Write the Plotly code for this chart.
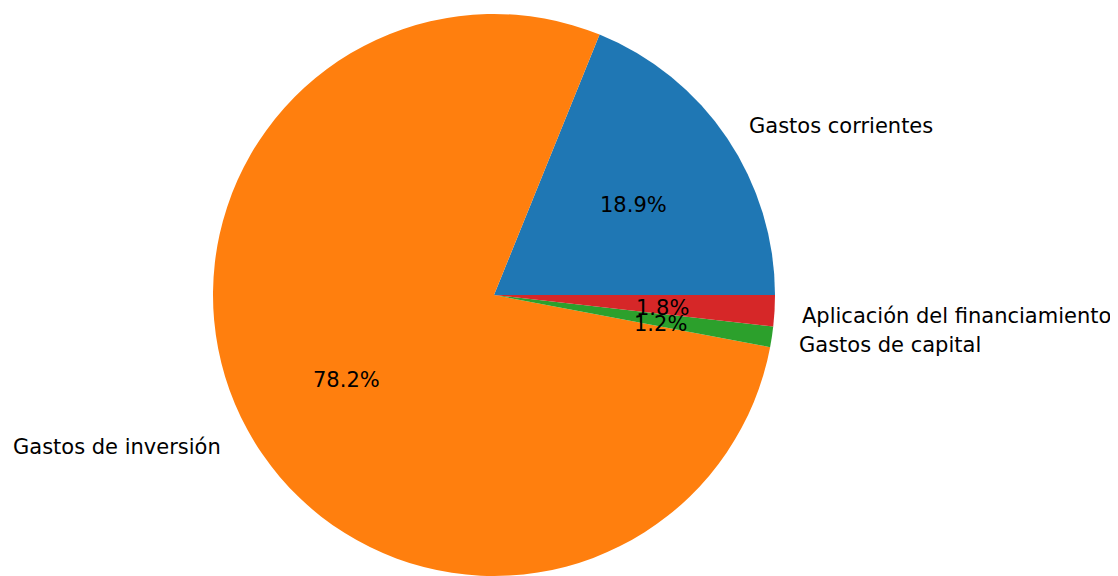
import math
import plotly.graph_objects as go

labels = ["Gastos corrientes", "Gastos de inversión", "Gastos de capital", "Aplicación del financiamiento"]
values = [18.87, 78.16, 1.18, 1.79]
colors = ["#1f77b4", "#ff7f0e", "#2ca02c", "#d62728"]

PAGE = 8  # browser default body margin
W, H = 1118 - PAGE, 576 - PAGE
CX_PX = 494 - PAGE  # pie centre (px from figure left)
R_PX = 281
MT = 6
MB = H - MT - 2 * R_PX
ML, MR = 0, 0
TEXT_DROP = 4  # downward nudge so glyphs sit like matplotlib's centred text

dom_x = [(CX_PX - R_PX) / W, (CX_PX + R_PX) / W]

total = sum(values)
# plotly's counterclockwise pies put the END of the first slice at the rotation angle;
# we want the first slice to START at 3 o'clock (matplotlib startangle=0).
rotation = 90 - 360 * values[0] / total

fig = go.Figure(go.Pie(
    labels=labels, values=values, sort=False,
    direction="counterclockwise", rotation=rotation,
    marker=dict(colors=colors, line=dict(width=0)),
    textinfo="none", hoverinfo="skip", showlegend=False,
    domain=dict(x=dom_x, y=[0, 1]),
))

cum = 0.0
cx_paper = CX_PX / W
cy_paper = 0.5
font = dict(family="DejaVu Sans", size=21, color="#000000")
for lab, v in zip(labels, values):
    frac = v / total
    mid = 2 * math.pi * (cum + frac / 2)
    cum += frac
    c, s = math.cos(mid), math.sin(mid)
    fig.add_annotation(
        x=cx_paper, y=cy_paper, xref="paper", yref="paper",
        xshift=1.1 * R_PX * c - (3 if c > 0 else 0), yshift=1.1 * R_PX * s - TEXT_DROP,
        text=lab, showarrow=False, font=font,
        xanchor="left" if c > 0 else "right", yanchor="middle",
    )
    fig.add_annotation(
        x=cx_paper, y=cy_paper, xref="paper", yref="paper",
        xshift=0.6 * R_PX * c, yshift=0.6 * R_PX * s - TEXT_DROP,
        text=f"{frac * 100:.1f}%", showarrow=False, font=font,
        xanchor="center", yanchor="middle",
    )

fig.update_layout(
    width=W, height=H,
    margin=dict(l=ML, r=MR, t=MT, b=MB),
    paper_bgcolor="white", plot_bgcolor="white",
)
fig.write_html("out.html")
